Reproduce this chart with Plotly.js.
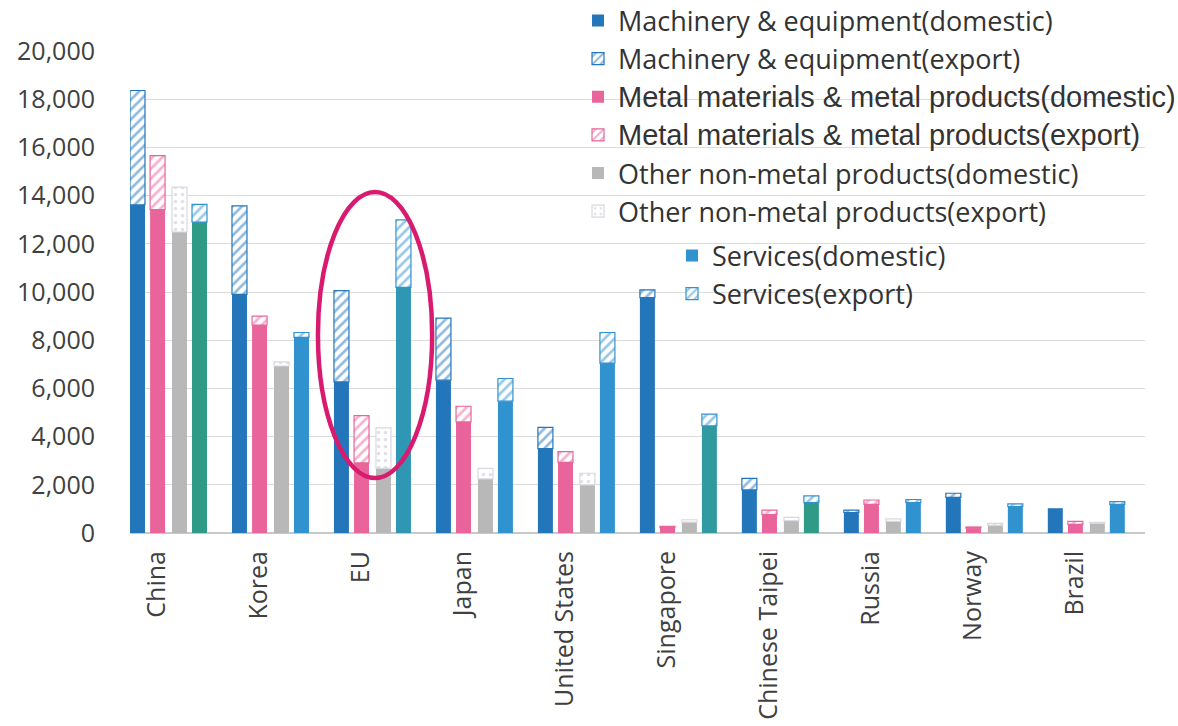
<!DOCTYPE html>
<html>
<head>
<meta charset="utf-8">
<script src="https://cdn.plot.ly/plotly-3.0.1.min.js"></script>
<style>
  html, body { margin: 0; padding: 0; background: #ffffff; }
  #chart { width: 1178px; height: 726px; }
</style>
</head>
<body>
<div id="chart"></div>
<script>
// Regions on the category axis
const regions = ["China", "Korea", "EU", "Japan", "United States", "Singapore",
                 "Chinese Taipei", "Russia", "Norway", "Brazil"];

// Machinery & equipment
const machineryDomestic = [13620, 9900, 6270, 6340, 3500, 9770, 1790, 850, 1480, 1000];
const machineryExport   = [4740, 3670, 3790, 2580, 880, 320, 480, 100, 170, 0];

// Metal materials & metal products
const metalDomestic = [13420, 8630, 2910, 4610, 2930, 230, 760, 1190, 200, 360];
const metalExport   = [2240, 370, 1960, 650, 450, 50, 190, 180, 50, 120];

// Other non-metal products
const otherDomestic = [12490, 6930, 2680, 2250, 2000, 450, 510, 480, 320, 400];
const otherExport   = [1860, 170, 1680, 430, 480, 100, 140, 110, 80, 40];

// Services
const servicesDomestic = [12900, 8120, 10190, 5470, 7050, 4450, 1260, 1260, 1100, 1190];
const servicesExport   = [740, 200, 2800, 940, 1270, 480, 280, 130, 110, 110];

// Y axis tick values
const yTicks = [0, 2000, 4000, 6000, 8000, 10000, 12000, 14000, 16000, 18000, 20000];

const C_MACH = "#2476bb";
const C_METAL = "#e8649b";
const C_OTHER = "#b8b8b8";
const C_SERV = "#3192d0";
// per-region fill of the services bars (some print with a green cast)
const SERV_TINT = ["#2f9a86", C_SERV, "#2f96b4", C_SERV, C_SERV, "#2f9aa0", "#2f9a86", C_SERV, C_SERV, C_SERV];

const BAR_W = 0.147;
const OFFSETS = [-0.373, -0.176, 0.039, 0.235];

const xIdx = regions.map((_, i) => i);

function solid(name, x, y, color, k, legend) {
  return {
    type: "bar", name: name, x: x, y: y,
    width: BAR_W, offset: OFFSETS[k],
    marker: { color: color, line: { width: 0 } },
    legend: legend, hoverinfo: "name+y"
  };
}
function hatched(name, y, base, color, k, legend, shape, lineColor) {
  return {
    type: "bar", name: name, x: xIdx, y: y, base: base,
    width: BAR_W, offset: OFFSETS[k],
    marker: {
      color: "#ffffff",
      line: { color: lineColor, width: 1.2 },
      pattern: { shape: shape, fgcolor: color, bgcolor: "#ffffff", size: 7,
                 solidity: shape === "." ? 0.22 : 0.38, fillmode: "overlay" }
    },
    legend: legend, hoverinfo: "name+y"
  };
}

// services bars listed from the last region so the legend swatch takes the plain blue
const rev = a => a.slice().reverse();

const ARIAL = "<span style=\"font-family:'Liberation Sans', Arial, sans-serif;font-size:29px\">";

const traces = [
  solid("Machinery & equipment(domestic)", xIdx, machineryDomestic, C_MACH, 0, "legend"),
  hatched("Machinery & equipment(export)", machineryExport, machineryDomestic, C_MACH, 0, "legend", "/", C_MACH),
  solid(ARIAL + "Metal materials &amp; metal products(domestic)</span>", xIdx, metalDomestic, C_METAL, 1, "legend"),
  hatched(ARIAL + "Metal materials &amp; metal products(export)</span>", metalExport, metalDomestic, C_METAL, 1, "legend", "/", C_METAL),
  solid("Other non-metal products(domestic)", xIdx, otherDomestic, C_OTHER, 2, "legend"),
  hatched("Other non-metal products(export)", otherExport, otherDomestic, "#c4c4d4", 2, "legend", ".", "#d8d8e0"),
  solid("Services(domestic)", rev(xIdx), rev(servicesDomestic), rev(SERV_TINT), 3, "legend2"),
  hatched("Services(export)", servicesExport, servicesDomestic, C_SERV, 3, "legend2", "/", C_SERV)
];

const FONT = "'Open Sans', 'Noto Sans', sans-serif";

const layout = {
  width: 1178, height: 726,
  paper_bgcolor: "#ffffff", plot_bgcolor: "#ffffff",
  margin: { l: 130, r: 33, t: 51, b: 193, autoexpand: false },
  barmode: "overlay",
  font: { family: FONT, color: "#404040" },
  showlegend: true,
  legend: {
    x: 0.4414, xanchor: "left", y: 1.113, yanchor: "top",
    font: { family: FONT, size: 27, color: "#333333" },
    bgcolor: "rgba(0,0,0,0)", borderwidth: 0, itemwidth: 30,
    traceorder: "normal"
  },
  legend2: {
    x: 0.534, xanchor: "left", y: 0.6255, yanchor: "top",
    font: { family: FONT, size: 27, color: "#333333" },
    bgcolor: "rgba(0,0,0,0)", borderwidth: 0, itemwidth: 30,
    traceorder: "normal"
  },
  xaxis: {
    type: "linear",
    range: [-0.373, 9.58],
    tickmode: "array", tickvals: xIdx, ticktext: regions,
    tickangle: -90,
    tickfont: { family: FONT, size: 25, color: "#404040" },
    ticklabelstandoff: 12, ticklabelshift: -11,
    showgrid: false, zeroline: false, showline: false, ticks: "",
    fixedrange: true
  },
  yaxis: {
    range: [0, 20000],
    tickmode: "array", tickvals: yTicks,
    tickformat: ",d",
    tickfont: { family: FONT, size: 25, color: "#404040" },
    ticklabelstandoff: 34,
    showgrid: true, gridcolor: "#dcdcdc", gridwidth: 1,
    zeroline: true, zerolinecolor: "#c8c8c8", zerolinewidth: 1.2,
    showline: false, ticks: "", ticklen: 0,
    fixedrange: true
  },
  shapes: [{
    type: "circle", xref: "x", yref: "y",
    x0: 1.47, x1: 2.59, y0: 2280, y1: 14150,
    line: { color: "#d81b6f", width: 4.5 },
    fillcolor: "rgba(0,0,0,0)"
  }]
};

Plotly.newPlot("chart", traces, layout, { displayModeBar: false, staticPlot: true });
</script>
</body>
</html>
